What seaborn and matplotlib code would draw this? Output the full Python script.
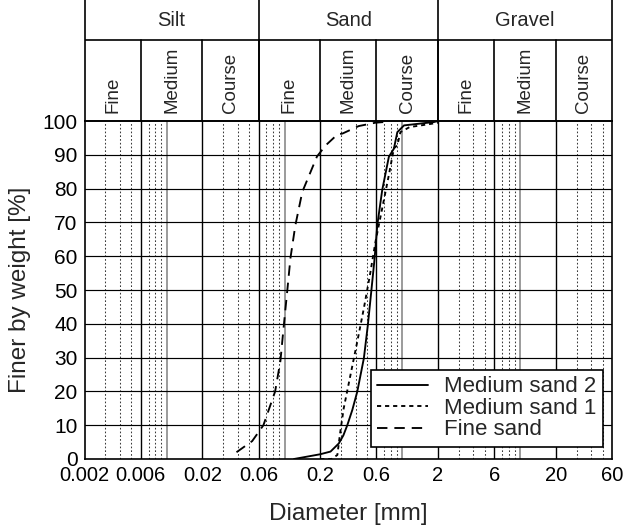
import numpy as np
import pandas as pd
import matplotlib
matplotlib.use("Agg")
import matplotlib.pyplot as plt
import seaborn as sns

# Grain size distributions: diameter [mm] and cumulative percentage finer
fine_sand_d = [0.039, 0.053, 0.066, 0.083, 0.092, 0.098, 0.105, 0.112, 0.123,
               0.141, 0.188, 0.223, 0.28, 0.31, 0.425, 0.59, 0.7]
fine_sand_p = [2.0, 5.3, 10.0, 20.0, 29.0, 39.0, 49.5, 59.5, 69.0,
               79.0, 89.5, 92.8, 96.0, 96.3, 98.5, 99.5, 99.7]

medium1_d = [0.2, 0.25, 0.28, 0.294, 0.317, 0.362, 0.413, 0.47, 0.529, 0.59,
             0.673, 0.766, 0.845, 0.904, 0.96, 1.15, 1.78, 2.0]
medium1_p = [0.0, 0.0, 1.2, 7.1, 15.0, 24.9, 34.7, 44.6, 54.4, 64.3,
             74.2, 84.0, 91.9, 92.8, 96.7, 98.2, 99.2, 99.5]

medium2_d = [0.12, 0.2, 0.245, 0.288, 0.315, 0.34, 0.375, 0.413, 0.47, 0.508,
             0.543, 0.58, 0.611, 0.673, 0.766, 0.845, 0.904, 1.03, 1.85, 2.0]
medium2_p = [0.0, 1.4, 2.2, 4.6, 7.0, 10.0, 14.5, 19.9, 29.8, 39.6,
             49.5, 59.4, 69.2, 79.6, 89.4, 91.8, 96.7, 98.7, 99.7, 100.0]

series_names = ["Medium sand 2", "Medium sand 1", "Fine sand"]

# Classification bands
main_classes = ["Silt", "Sand", "Gravel"]
main_bounds = [0.002, 0.06, 2, 60]
sub_classes = ["Fine", "Medium", "Course"] * 3
sub_bounds = [0.002, 0.006, 0.02, 0.06, 0.2, 0.6, 2, 6, 20, 60]

x_ticks = [0.002, 0.006, 0.02, 0.06, 0.2, 0.6, 2, 6, 20, 60]
x_tick_labels = ["0.002", "0.006", "0.02", "0.06", "0.2", "0.6", "2", "6", "20", "60"]
y_ticks = list(range(0, 101, 10))

sns.set_theme(style="white")
plt.rcParams["font.family"] = ["Liberation Sans", "DejaVu Sans"]
plt.rcParams["lines.scale_dashes"] = False

W, H = 623, 530
fig = plt.figure(figsize=(W / 100, H / 100), dpi=100)

left_px, right_px, top_px, bottom_px = 84.5, 612, 121, 459
ax = fig.add_axes([left_px / W, 1 - bottom_px / H,
                   (right_px - left_px) / W, (bottom_px - top_px) / H])
hax = fig.add_axes([left_px / W, 1 - top_px / H,
                    (right_px - left_px) / W, top_px / H])

xmin, xmax = 0.002, 60

# --- main plot grid ---
ax.set_xscale("log")
ax.set_xlim(xmin, xmax)
ax.set_ylim(0, 100)
for dec in [0.001, 0.01, 0.1, 1, 10]:
    for m in range(1, 10):
        v = round(dec * m, 6)
        if v <= xmin or v >= xmax:
            continue
        if m in (2, 6):
            ax.axvline(v, color="black", lw=1.0, zorder=1)
        elif m == 1:
            ax.axvline(v, color="#8a8a8a", lw=1.2, zorder=1)
        else:
            ax.axvline(v, color="#3a3a3a", lw=0.75, ls=(0, (1.2, 1.5)), zorder=1)
for yv in y_ticks[1:-1]:
    ax.axhline(yv, color="black", lw=0.85, zorder=1)

# --- curves ---
df = pd.concat([
    pd.DataFrame({"d": medium2_d, "p": medium2_p, "s": series_names[0]}),
    pd.DataFrame({"d": medium1_d, "p": medium1_p, "s": series_names[1]}),
    pd.DataFrame({"d": fine_sand_d, "p": fine_sand_p, "s": series_names[2]}),
])
styles = {series_names[0]: "-",
          series_names[1]: (0, (3.0, 2.8)),
          series_names[2]: (0, (7.5, 5.0))}
for name in series_names:
    sub = df[df["s"] == name]
    sns.lineplot(data=sub, x="d", y="p", ax=ax, color="black", lw=1.35,
                 linestyle=styles[name], sort=False, estimator=None,
                 label=name, zorder=3)
handles = ax.get_lines()[-3:]

leg = ax.legend(handles, series_names, loc="lower right",
                bbox_to_anchor=(0.983, 0.0355), borderaxespad=0,
                fontsize=16, frameon=True, fancybox=False, framealpha=1,
                edgecolor="black", handlelength=2.3, handletextpad=0.7,
                labelspacing=0.02, borderpad=0.3)
leg.get_frame().set_linewidth(1.2)
leg.set_zorder(5)

ax.set_xticks(x_ticks)
ax.set_xticklabels(x_tick_labels)
ax.xaxis.set_minor_locator(matplotlib.ticker.NullLocator())
ax.set_yticks(y_ticks)
ax.tick_params(axis="both", length=0, colors="black")
ax.tick_params(axis="x", pad=5, labelsize=14.5)
ax.tick_params(axis="y", pad=5, labelsize=15)
ax.set_xlabel("Diameter [mm]", fontsize=17.5, labelpad=13)
ax.set_ylabel("Finer by weight [%]", fontsize=17.5, labelpad=8)
for sp in ax.spines.values():
    sp.set_color("black")
    sp.set_linewidth(1.2)
    sp.set_visible(True)

# --- classification header ---
hax.set_xscale("log")
hax.set_xlim(xmin, xmax)
hax.set_ylim(0, top_px)
hax.set_xticks([])
hax.set_yticks([])
hax.xaxis.set_minor_locator(matplotlib.ticker.NullLocator())
for side in ["left", "right", "bottom"]:
    hax.spines[side].set_color("black")
    hax.spines[side].set_linewidth(1.2)
hax.spines["top"].set_visible(False)
hax.patch.set_alpha(0)

row_split = top_px - 40
hax.axhline(row_split, color="black", lw=1.2)
for b in main_bounds[1:-1]:
    hax.axvline(b, color="black", lw=1.2)
for b in sub_bounds[1:-1]:
    hax.plot([b, b], [0, row_split], color="black", lw=1.2)

for name, lo, hi in zip(main_classes, main_bounds[:-1], main_bounds[1:]):
    hax.text(np.sqrt(lo * hi), (row_split + top_px) / 2, name,
             ha="center", va="center", fontsize=14.5)
for name, lo, hi in zip(sub_classes, sub_bounds[:-1], sub_bounds[1:]):
    hax.text(np.sqrt(lo * hi), 8, name, rotation=90,
             ha="center", va="bottom", fontsize=13.5)

fig.savefig("out.png", dpi=100)
